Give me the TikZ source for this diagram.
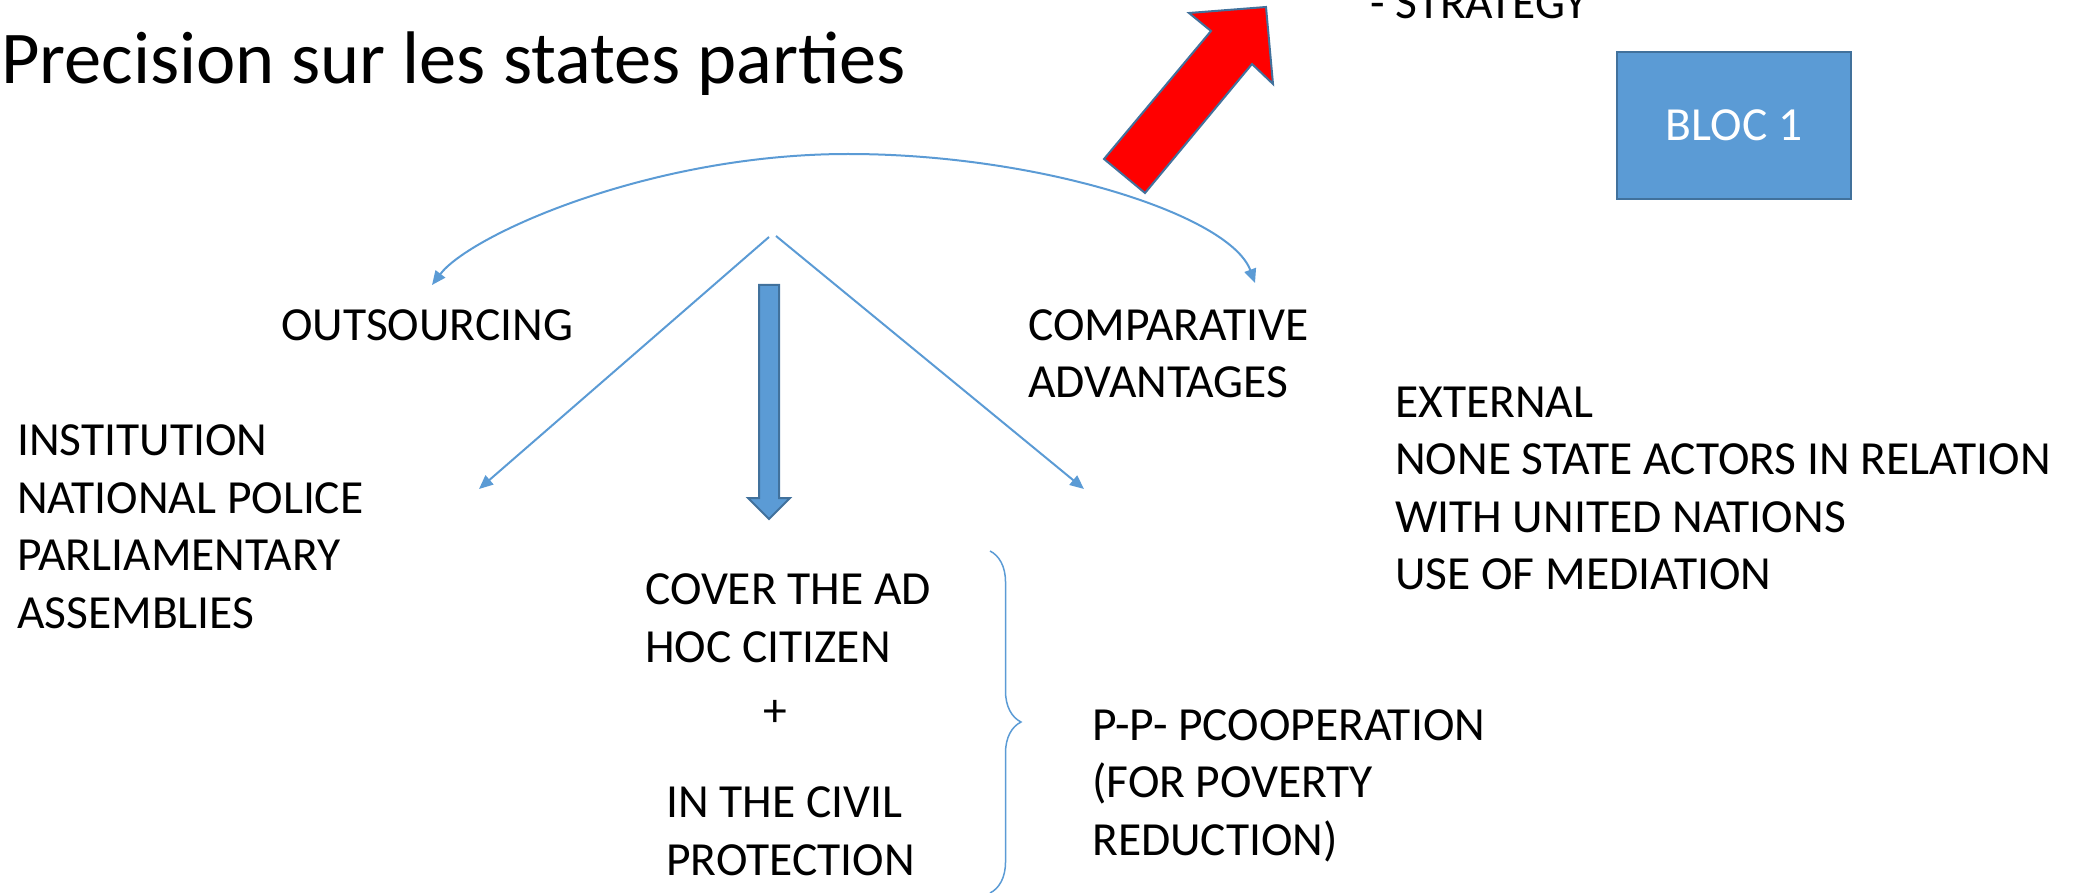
\documentclass[tikz,border=0pt]{standalone}
\usepackage{fontspec}
\setmainfont{Carlito}
\usetikzlibrary{arrows.meta,decorations.pathreplacing}
\definecolor{lineblue}{HTML}{5B9BD5}
\definecolor{edgeblue}{HTML}{41719C}
\tikzset{every node/.style={font=\fontsize{47.5}{57.5}\selectfont, inner sep=0pt, anchor=base west, align=left}}
\tikzset{every edge/.style={draw = lineblue, line width=2pt, -{Triangle[length=14pt,width=12pt]}}}
\tikzset{arcline/.style={draw = lineblue, line width=2pt, {Triangle[length=14pt,width=12pt]}-{Triangle[length=14pt,width=12pt]}}}
\tikzset{blockarrow/.style={draw = edgeblue, line width=2pt, line join=miter}}

\begin{document}
\begin{tikzpicture}[x=1pt, y=-1pt]
  \useasboundingbox (0,0) rectangle (2085,893);
  \clip (0,0) rectangle (2085,893);

  % multi-line nodes sit on the baseline of their last line
  \node (title) [font=\fontsize{74.5}{90}\selectfont] at (1,84) {Precision sur les states parties};
  \node (strategy) at (1370,19) {- STRATEGY};
  \node (bloc) [anchor=center, draw = edgeblue, line width=2pt, fill = lineblue, text = white, minimum width=234pt, minimum height=147pt] at (1734,125.5) {BLOC 1};

  \node (outsourcing) at (281,340) {OUTSOURCING};
  \node (comparative) at (1028,397.5) {COMPARATIVE\\ADVANTAGES};
  \node (external) at (1395,589.5) {EXTERNAL\\NONE STATE ACTORS IN RELATION\\WITH UNITED NATIONS\\USE OF MEDIATION};
  \node (institution) at (17,628) {INSTITUTION\\NATIONAL POLICE\\PARLIAMENTARY\\ASSEMBLIES};
  \node (cover) at (645,662) {COVER THE AD\\HOC CITIZEN};
  \node (plus) [anchor=base] at (775,726) {+};
  \node (civil) at (666,875) {IN THE CIVIL\\PROTECTION};
  \node (ppp) at (1092,855) {P-P- PCOOPERATION\\(FOR POVERTY\\REDUCTION)};

  \coordinate (apexL) at (769,237);
  \coordinate (apexR) at (776,236);
  \coordinate (tipL) at (479,489);
  \coordinate (tipR) at (1084,489);
  \path (apexL) edge (tipL);
  \path (apexR) edge (tipR);

  \coordinate (arcL) at (432,285);
  \coordinate (arcTop) at (848,154);
  \coordinate (arcR) at (1255,283);
  \draw[arcline] (arcL) .. controls (470,235) and (650,154) .. (arcTop)
    .. controls (1040,154) and (1230,215) .. (arcR);

  % big arrows
  \draw[blockarrow, fill = lineblue] (759,285) -- (779,285) -- (779,498) -- (790,498)
    -- (769,519) -- (748,498) -- (759,498) -- cycle;
  \draw[blockarrow, fill = red] (1104,159) -- (1211,31) -- (1189,13) -- (1266,7)
    -- (1273,84) -- (1252,64) -- (1145,193) -- cycle;

  \coordinate (braceTop) at (990,551);
  \coordinate (braceBot) at (990,893);
  \draw[lineblue, line width=1.5pt, decorate, decoration={brace, amplitude=31pt, aspect=0.5}] (braceTop) -- (braceBot);
\end{tikzpicture}
\end{document}
